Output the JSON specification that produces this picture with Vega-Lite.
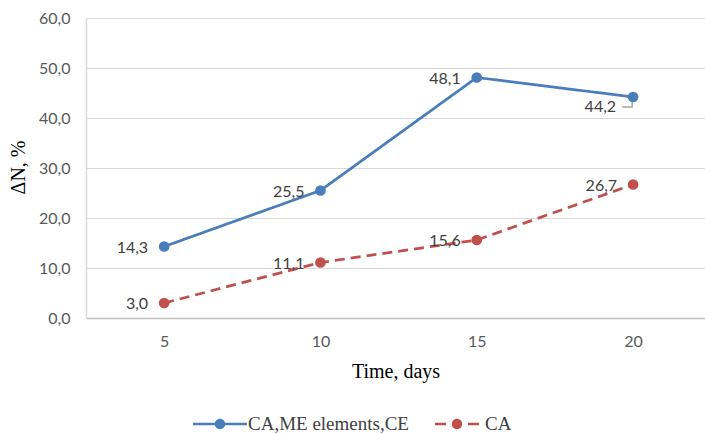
{
  "$schema": "https://vega.github.io/schema/vega-lite/v6.json",
  "autosize": "none",
  "width": 619,
  "height": 300,
  "padding": {"left": 86, "top": 18, "right": 0, "bottom": 116},
  "background": "white",
  "config": {
    "view": {"stroke": null},
    "locale": {
      "number": {"decimal": ",", "thousands": ".", "grouping": [3], "currency": ["", " €"]}
    }
  },
  "data": {
    "values": [
      {"day": 5, "series": "CA,ME elements,CE", "pct": 14.3},
      {"day": 10, "series": "CA,ME elements,CE", "pct": 25.5},
      {"day": 15, "series": "CA,ME elements,CE", "pct": 48.1},
      {"day": 20, "series": "CA,ME elements,CE", "pct": 44.2},
      {"day": 5, "series": "CA", "pct": 3.0},
      {"day": 10, "series": "CA", "pct": 11.1},
      {"day": 15, "series": "CA", "pct": 15.6},
      {"day": 20, "series": "CA", "pct": 26.7}
    ]
  },
  "encoding": {
    "x": {
      "field": "day",
      "type": "quantitative",
      "scale": {"domain": [2.5, 22.3], "nice": false, "zero": false},
      "axis": {
        "values": [5, 10, 15, 20],
        "format": "d",
        "grid": false,
        "ticks": false,
        "domainColor": "#bfbfbf",
        "domainWidth": 1.5,
        "labelFont": "Lato",
        "labelFontSize": 16,
        "labelColor": "#595959",
        "labelBaseline": "middle",
        "labelPadding": 23,
        "title": "Time, days",
        "titleFont": "Liberation Serif",
        "titleFontSize": 20,
        "titleFontWeight": "normal",
        "titleColor": "#000000",
        "titleBaseline": "middle",
        "titleY": 53
      }
    },
    "y": {
      "field": "pct",
      "type": "quantitative",
      "scale": {"domain": [0, 60], "nice": false},
      "axis": {
        "values": [0, 10, 20, 30, 40, 50, 60],
        "format": ".1f",
        "grid": true,
        "gridColor": "#d9d9d9",
        "gridWidth": 1,
        "ticks": false,
        "domainColor": "#d9d9d9",
        "domainWidth": 1.5,
        "labelFont": "Lato",
        "labelFontSize": 16,
        "labelColor": "#595959",
        "labelPadding": 16,
        "title": "ΔN, %",
        "titleFont": "Liberation Serif",
        "titleFontSize": 20,
        "titleFontWeight": "normal",
        "titleColor": "#000000",
        "titleAngle": -90,
        "titleAlign": "center",
        "titleBaseline": "middle",
        "titleX": -68,
        "titleY": 149
      }
    }
  },
  "layer": [
    {
      "mark": {"type": "line", "strokeWidth": 2.75, "strokeCap": "butt"},
      "encoding": {
        "color": {
          "field": "series",
          "type": "nominal",
          "sort": ["CA,ME elements,CE", "CA"],
          "scale": {"domain": ["CA,ME elements,CE", "CA"], "range": ["#4a7ebb", "#c0504d"]},
          "legend": {
            "orient": "none",
            "legendX": 108,
            "legendY": 380,
            "direction": "horizontal",
            "title": null,
            "padding": 0,
            "symbolSize": 2704,
            "symbolStrokeWidth": 0,
            "labelFont": "Liberation Serif",
            "labelFontSize": 19,
            "labelColor": "#404040",
            "labelLimit": 400,
            "labelOffset": 2,
            "columnPadding": 22,
            "encode": {
              "symbols": {
                "update": {
                  "shape": {"signal": "datum.value === 'CA' ? 'M-0.85,-0.05H-0.42V0.05H-0.85Z M0.42,-0.05H0.85V0.05H0.42Z M0.2,0A0.2,0.2 0 1,1 -0.2,0A0.2,0.2 0 1,1 0.2,0Z' : 'M-1.04,-0.05H1.04V0.05H-1.04Z M0.2,0A0.2,0.2 0 1,1 -0.2,0A0.2,0.2 0 1,1 0.2,0Z'"},
                  "fill": {"scale": "color", "field": "value"},
                  "stroke": {"value": "transparent"},
                  "strokeWidth": {"value": 0},
                  "opacity": {"value": 1}
                }
              }
            }
          }
        },
        "strokeDash": {
          "field": "series",
          "type": "nominal",
          "scale": {"domain": ["CA,ME elements,CE", "CA"], "range": [[1, 0], [10, 6]]},
          "legend": null
        }
      }
    },
    {
      "mark": {"type": "point", "filled": true, "size": 115, "opacity": 1},
      "encoding": {
        "color": {"field": "series", "type": "nominal", "legend": null}
      }
    },
    {
      "data": {
        "values": [
          {"day": 19.65, "pct": 42.2, "step": 1},
          {"day": 19.97, "pct": 42.2, "step": 2},
          {"day": 19.97, "pct": 43.2, "step": 3}
        ]
      },
      "mark": {"type": "line", "color": "#a6a6a6", "strokeWidth": 1.5},
      "encoding": {"order": {"field": "step", "type": "quantitative"}}
    },
    {
      "transform": [{"filter": "!(datum.day === 20 && datum.series === 'CA,ME elements,CE')"}],
      "mark": {"type": "text", "align": "right", "baseline": "middle", "dx": -16, "dy": 1, "font": "Lato", "fontSize": 16, "color": "#404040"},
      "encoding": {"text": {"field": "pct", "type": "quantitative", "format": ".1f"}}
    },
    {
      "transform": [{"filter": "datum.day === 20 && datum.series === 'CA,ME elements,CE'"}],
      "mark": {"type": "text", "align": "right", "baseline": "middle", "dx": -17, "dy": 10, "font": "Lato", "fontSize": 16, "color": "#404040"},
      "encoding": {"text": {"field": "pct", "type": "quantitative", "format": ".1f"}}
    }
  ]
}
